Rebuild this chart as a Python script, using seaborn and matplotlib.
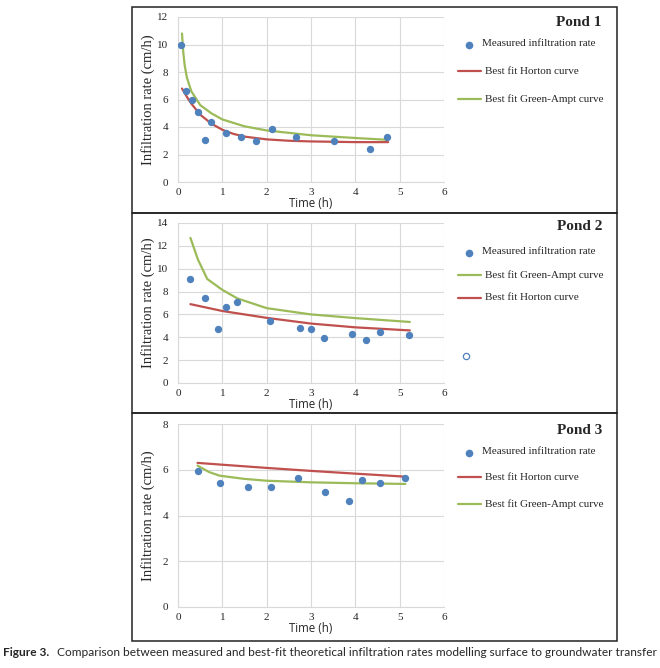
import numpy as np
import pandas as pd
import matplotlib.pyplot as plt
import seaborn as sns
from matplotlib.patches import Rectangle
from matplotlib.lines import Line2D

# pond 1
p1_t = [0.075, 0.19, 0.31, 0.44, 0.61, 0.74, 1.09, 1.42, 1.75, 2.13, 2.67, 3.52, 4.34, 4.72]
p1_f = [10.0, 6.6, 6.0, 5.1, 3.05, 4.4, 3.6, 3.3, 3.0, 3.85, 3.25, 3.0, 2.4, 3.3]
p1_hort_t = [0.09, 0.2, 0.3, 0.5, 0.75, 1.0, 1.25, 1.5, 2.0, 2.5, 3.0, 4.0, 4.74]
p1_hort_f = [6.8, 6.2, 5.7, 4.9, 4.25, 3.8, 3.5, 3.3, 3.1, 3.0, 2.95, 2.9, 2.9]
p1_ga_t = [0.09, 0.12, 0.15, 0.2, 0.3, 0.5, 0.75, 1.0, 1.5, 2.0, 3.0, 4.0, 4.72]
p1_ga_f = [10.8, 9.4, 8.5, 7.6, 6.6, 5.6, 5.0, 4.55, 4.05, 3.75, 3.4, 3.2, 3.07]

# pond 2
p2_t = [0.28, 0.62, 0.91, 1.09, 1.34, 2.08, 2.75, 3.01, 3.30, 3.92, 4.25, 4.55, 5.22]
p2_f = [9.1, 7.45, 4.75, 6.65, 7.05, 5.4, 4.85, 4.75, 3.9, 4.25, 3.8, 4.5, 4.2]
p2_ga_t = [0.28, 0.45, 0.66, 1.0, 1.34, 2.0, 3.0, 4.0, 5.23]
p2_ga_f = [12.7, 10.8, 9.1, 8.15, 7.4, 6.55, 6.0, 5.68, 5.34]
p2_hort_t = [0.28, 1.0, 2.0, 3.0, 4.0, 5.23]
p2_hort_f = [6.9, 6.3, 5.7, 5.2, 4.87, 4.6]

# pond 3
p3_t = [0.44, 0.94, 1.57, 2.09, 2.71, 3.31, 3.85, 4.15, 4.55, 5.11]
p3_f = [5.93, 5.44, 5.23, 5.23, 5.63, 5.04, 4.64, 5.54, 5.44, 5.63]
p3_hort_t = [0.44, 1.0, 2.0, 3.0, 4.0, 5.11]
p3_hort_f = [6.3, 6.22, 6.08, 5.95, 5.83, 5.7]
p3_ga_t = [0.44, 0.7, 0.94, 1.5, 2.0, 3.0, 4.0, 5.13]
p3_ga_f = [6.18, 5.9, 5.74, 5.6, 5.52, 5.45, 5.41, 5.38]

sns.set_style("whitegrid", {"grid.color": "#d9d9d9", "axes.edgecolor": "#d9d9d9"})
plt.rcParams['font.family'] = ['Liberation Serif', 'DejaVu Serif']

W, H = 660, 668
fig = plt.figure(figsize=(6.6, 6.68), dpi=100)

BLUE = "#4f81bd"
RED = "#c0504d"
GREEN = "#9bbb59"


def px_axes(left, top, right, bottom):
    return fig.add_axes([left / W, 1 - bottom / H, (right - left) / W, (bottom - top) / H])


def draw(ax, t, f, curves, ym):
    sns.scatterplot(x=t, y=f, ax=ax, color=BLUE, s=28, edgecolor=BLUE, linewidth=0, zorder=3)
    for ct, cf, col in curves:
        sns.lineplot(x=ct, y=cf, ax=ax, color=col, linewidth=1.6, zorder=2)
    ax.set_xlim(0, 6)
    ax.set_ylim(0, ym)
    ax.set_xticks(range(0, 7))
    ax.set_yticks(range(0, ym + 1, 2))
    ax.tick_params(labelsize=8, length=0)
    ax.tick_params(axis="y", pad=7)
    ax.tick_params(axis="x", pad=4)
    ax.set_xlabel("Time (h)", family=["Open Sans", "DejaVu Sans"], fontsize=8.3, labelpad=0)
    ax.set_ylabel("Infiltration rate (cm/h)", fontsize=10.5)
    ax.yaxis.set_label_coords(-23 / 266, 0.5)
    ax.spines['top'].set_visible(False)
    ax.spines['right'].set_visible(False)


ax1 = px_axes(178, 17, 444, 182)
draw(ax1, p1_t, p1_f, [(p1_hort_t, p1_hort_f, RED), (p1_ga_t, p1_ga_f, GREEN)], 12)
ax2 = px_axes(178, 223, 444, 383)
draw(ax2, p2_t, p2_f, [(p2_hort_t, p2_hort_f, RED), (p2_ga_t, p2_ga_f, GREEN)], 14)
ax3 = px_axes(178, 424, 444, 607)
draw(ax3, p3_t, p3_f, [(p3_hort_t, p3_hort_f, RED), (p3_ga_t, p3_ga_f, GREEN)], 8)

# overlay in pixel coords for boxes and legends
ov = fig.add_axes([0, 0, 1, 1], zorder=-1)
ov.set_xlim(0, W)
ov.set_ylim(H, 0)
ov.axis("off")
for top, bot in [(7, 213), (213, 413), (413, 641)]:
    ov.add_patch(Rectangle((132, top), 617 - 132, bot - top, fill=False, edgecolor="#222222", linewidth=1.1))

ov2 = fig.add_axes([0, 0, 1, 1], zorder=5)
ov2.set_xlim(0, W)
ov2.set_ylim(H, 0)
ov2.axis("off")
ov2.patch.set_alpha(0)

legends = [
    ("Pond 1", 22, [("m", 43, "Measured infiltration rate"), (RED, 71, "Best fit Horton curve"),
                    (GREEN, 99, "Best fit Green-Ampt curve")]),
    ("Pond 2", 227, [("m", 251, "Measured infiltration rate"), (GREEN, 275, "Best fit Green-Ampt curve"),
                     (RED, 298, "Best fit Horton curve")]),
    ("Pond 3", 430, [("m", 451, "Measured infiltration rate"), (RED, 477, "Best fit Horton curve"),
                     (GREEN, 504, "Best fit Green-Ampt curve")]),
]
for title, ty, entries in legends:
    ov2.text(602, ty, title, ha="right", va="center", fontsize=11, fontweight="bold")
    for kind, y, label in entries:
        if kind == "m":
            ov2.plot([469], [y + 2], "o", color=BLUE, markersize=4.5)
            ov2.text(482, y, label, va="center", fontsize=8)
        else:
            ov2.add_line(Line2D([458, 481], [y, y], color=kind, linewidth=1.6))
            ov2.text(485, y, label, va="center", fontsize=8)
ov2.plot([466], [356], "o", mfc="white", mec=BLUE, markersize=4.5, mew=0.9)

cap_font = ["Lato", "DejaVu Sans"]
fig.text(3 / W, 1 - 652 / H, "Figure 3.", fontweight="bold", fontsize=8.6,
         family=cap_font, va="center")
fig.text(57 / W, 1 - 652 / H,
         "Comparison between measured and best-fit theoretical infiltration rates modelling surface to groundwater transfer",
         fontsize=8.6, family=cap_font, va="center")

fig.savefig("out.png", dpi=100)
